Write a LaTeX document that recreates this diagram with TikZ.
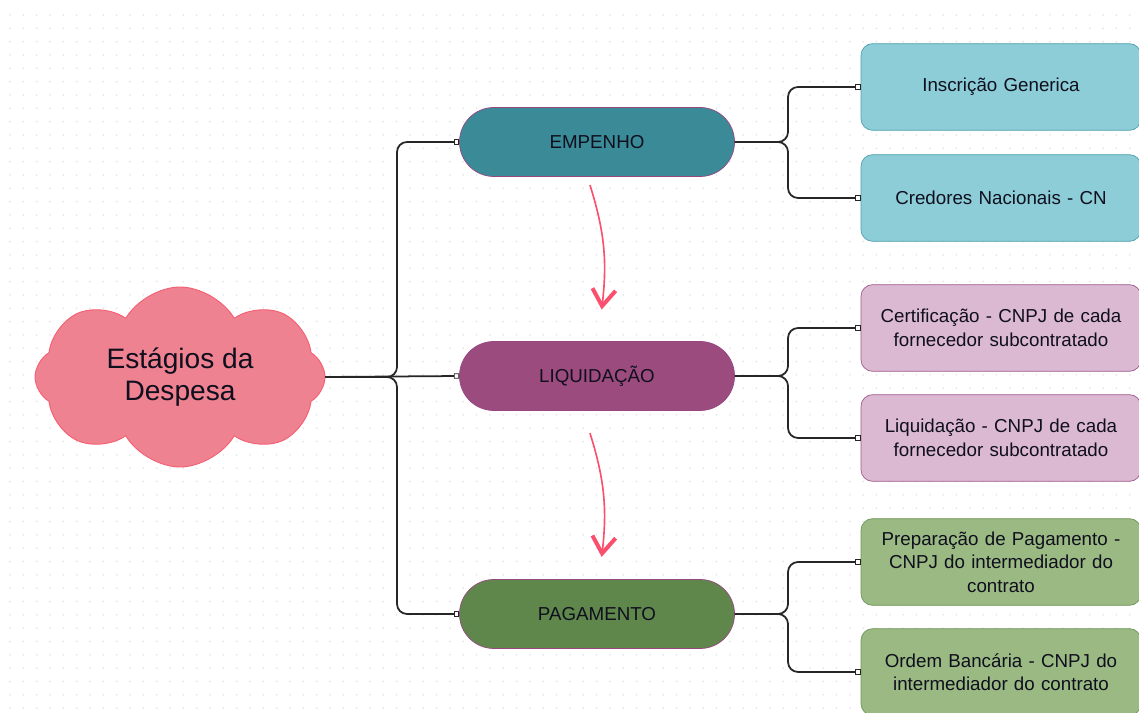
\documentclass[tikz,border=0pt]{standalone}
\usepackage{fontspec}
\setmainfont{Liberation Sans}
\usepackage{tikz}
\usetikzlibrary{arrows.meta, positioning, shapes.symbols, calc}
\usepackage{xcolor}
\definecolor{cloudpink}{RGB}{238, 130, 145}
\definecolor{cloudline}{RGB}{245, 95, 115}
\definecolor{empteal}{RGB}{58, 138, 152}
\definecolor{liqplum}{RGB}{155, 75, 125}
\definecolor{paggreen}{RGB}{95, 135, 75}
\definecolor{pillline}{RGB}{150, 70, 130}
\definecolor{cyanbox}{RGB}{140, 205, 215}
\definecolor{cyanline}{RGB}{80, 160, 175}
\definecolor{mauvebox}{RGB}{220, 185, 210}
\definecolor{mauveline}{RGB}{160, 90, 140}
\definecolor{sagebox}{RGB}{155, 185, 130}
\definecolor{sageline}{RGB}{110, 150, 90}
\definecolor{flowpink}{RGB}{250, 80, 110}
\definecolor{dotgray}{RGB}{228, 230, 234}
\definecolor{inkdark}{RGB}{15, 15, 30}

\begin{document}
\begin{tikzpicture}[
  x=0.03cm, y=-0.03cm,
  root/.style={cloud, cloud puffs=8, cloud puff arc=120, aspect=1.7,
               draw=cloudline, line width=0.8pt, fill=cloudpink,
               minimum width=8.7cm, minimum height=5.4cm, align=center,
               font=\fontsize{24}{28}\selectfont, text=inkdark},
  stage/.style={draw=pillline, line width=0.6pt, rounded corners=1.03cm,
                minimum width=8.25cm, minimum height=2.07cm,
                font=\fontsize{16}{19}\selectfont, text=inkdark},
  leaf/.style={draw, line width=0.6pt, rounded corners=0.35cm,
               minimum width=8.4cm, minimum height=2.6cm, text width=8cm,
               align=center, font=\fontsize{16}{20}\selectfont, text=inkdark},
  link/.style={draw=black!85, line width=1.5pt, rounded corners=0.3cm,
               -{Square[open, length=1.6mm, width=1.6mm, line width=0.6pt]}},
  flow/.style={flowpink, line width=1.4pt,
               -{Straight Barb[length=5mm, width=7mm, line width=3.4pt]}}
]
  \useasboundingbox (0,0) rectangle (1139,713);

  % dotted canvas
  \foreach \i in {0,...,85}
    \foreach \j in {0,...,52}
      \fill[dotgray] (10+13.33*\i, 15+13.33*\j) circle (1);

  \node[root] (root) at (180,377) {Estágios da\\Despesa};

  \node[stage, fill=empteal] (emp) at (597,142) {EMPENHO};
  \node[stage, fill=liqplum] (liq) at (597,376) {LIQUIDAÇÃO};
  \node[stage, fill=paggreen] (pag) at (597,614) {PAGAMENTO};

  \node[leaf, draw=cyanline, fill=cyanbox] (ins) at (1001,87) {Inscrição Generica};
  \node[leaf, draw=cyanline, fill=cyanbox] (cred) at (1001,198) {Credores Nacionais - CN};
  \node[leaf, draw=mauveline, fill=mauvebox] (cert) at (1001,328) {Certificação - CNPJ de cada\\fornecedor subcontratado};
  \node[leaf, draw=mauveline, fill=mauvebox] (liqf) at (1001,438) {Liquidação - CNPJ de cada\\fornecedor subcontratado};
  \node[leaf, draw=sageline, fill=sagebox] (prep) at (1001,562) {Preparação de Pagamento -\\CNPJ do intermediador do\\contrato};
  \node[leaf, draw=sageline, fill=sagebox] (ordem) at (1001,672) {Ordem Bancária - CNPJ do\\intermediador do contrato};

  \coordinate (hub) at (397,377);
  \coordinate (fork) at (788,0);

  \draw[link] (root.east) -| (hub |- emp.west) -- (emp.west);
  \draw[link] (root.east) -- (liq.west);
  \draw[link] (root.east) -| (hub |- pag.west) -- (pag.west);

  \draw[link] (emp.east) -| (fork |- ins.west) -- (ins.west);
  \draw[link] (emp.east) -| (fork |- cred.west) -- (cred.west);
  \draw[link] (liq.east) -| (fork |- cert.west) -- (cert.west);
  \draw[link] (liq.east) -| (fork |- liqf.west) -- (liqf.west);
  \draw[link] (pag.east) -| (fork |- prep.west) -- (prep.west);
  \draw[link] (pag.east) -| (fork |- ordem.west) -- (ordem.west);

  \draw[flow] ([xshift=-6pt, yshift=-7pt]emp.south) to[bend left=12]
    ([xshift=4pt, yshift=27pt]liq.north);
  \draw[flow] ([xshift=-6pt, yshift=-19pt]liq.south) to[bend left=12]
    ([xshift=4pt, yshift=19pt]pag.north);
\end{tikzpicture}
\end{document}
